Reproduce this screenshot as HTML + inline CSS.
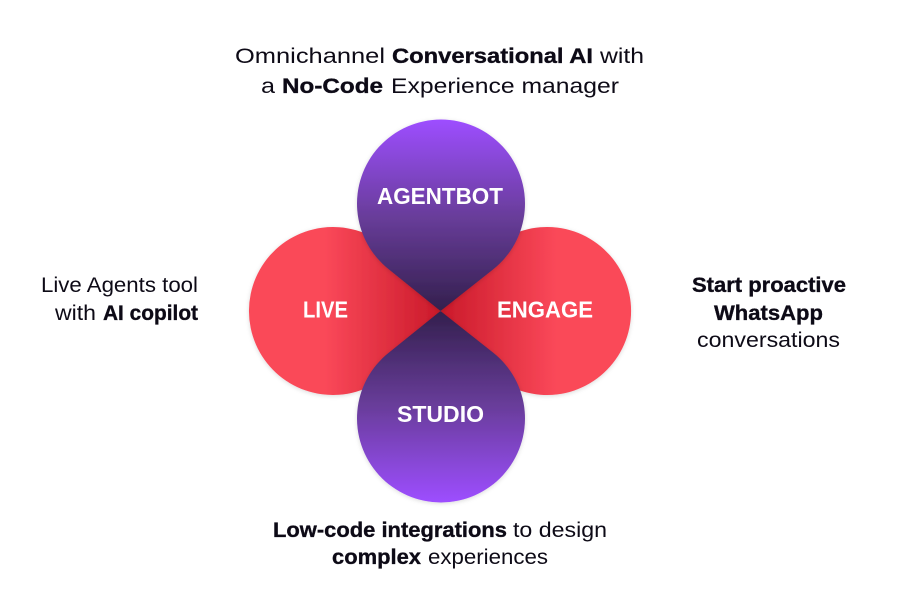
<!DOCTYPE html>
<html>
<head>
<meta charset="utf-8">
<style>
html,body{margin:0;padding:0;background:#fff;width:909px;height:611px;overflow:hidden}
svg{display:block}
text{font-family:"Liberation Sans",sans-serif;font-size:21.5px;fill:#0d0a16}
.b{font-weight:700;stroke:#0d0a16;stroke-width:.35px}
.l{font-weight:700;font-size:23px;fill:#fff}
</style>
</head>
<body>
<svg width="909" height="611" viewBox="0 0 909 611" xmlns="http://www.w3.org/2000/svg">
<defs>
<linearGradient id="pt" gradientUnits="userSpaceOnUse" x1="0" y1="120" x2="0" y2="311"><stop offset="0" stop-color="#9d4eff"/><stop offset=".5" stop-color="#693d9b"/><stop offset="1" stop-color="#33204d"/></linearGradient>
<linearGradient id="pb" gradientUnits="userSpaceOnUse" x1="0" y1="502" x2="0" y2="311"><stop offset="0" stop-color="#9d4eff"/><stop offset=".5" stop-color="#693d9b"/><stop offset="1" stop-color="#33204d"/></linearGradient>
<linearGradient id="rl" gradientUnits="userSpaceOnUse" x1="436" y1="0" x2="325" y2="0"><stop offset="0" stop-color="#cc1c2c"/><stop offset="1" stop-color="#fa4859"/></linearGradient>
<linearGradient id="rr" gradientUnits="userSpaceOnUse" x1="445" y1="0" x2="556" y2="0"><stop offset="0" stop-color="#cc1c2c"/><stop offset="1" stop-color="#fa4859"/></linearGradient>
<filter id="s" x="-20%" y="-20%" width="140%" height="140%"><feDropShadow dx="0" dy="1" stdDeviation="2" flood-color="#000" flood-opacity=".15"/></filter>
</defs>

<g filter="url(#s)">
<path fill="url(#rl)" d="M440.5 311 L398.6 258.6 A84 84 0 1 0 398.6 363.4 Z"/>
<path fill="url(#rr)" d="M440.5 311 L480.8 259.4 A84 84 0 1 1 480.8 362.6 Z"/>
</g>
<g filter="url(#s)">
<path fill="url(#pt)" d="M440.5 311 L389.5 269.9 A84 84 0 1 1 492.5 269.9 Z"/>
<path fill="url(#pb)" d="M440.5 311 L389.5 352.1 A84 84 0 1 0 492.5 352.1 Z"/>
</g>

<text class="l" x="377" y="204" textLength="126" lengthAdjust="spacingAndGlyphs">AGENTBOT</text>
<text class="l" x="303" y="317.5" textLength="45" lengthAdjust="spacingAndGlyphs">LIVE</text>
<text class="l" x="497" y="317.5" textLength="96" lengthAdjust="spacingAndGlyphs">ENGAGE</text>
<text class="l" x="397" y="422" textLength="87" lengthAdjust="spacingAndGlyphs">STUDIO</text>

<text x="235" y="63" textLength="150" lengthAdjust="spacingAndGlyphs">Omnichannel</text>
<text class="b" x="392" y="63" textLength="201" lengthAdjust="spacingAndGlyphs">Conversational AI</text>
<text x="600" y="63" textLength="44" lengthAdjust="spacingAndGlyphs">with</text>
<text x="261" y="93" textLength="14" lengthAdjust="spacingAndGlyphs">a</text>
<text class="b" x="282" y="93" textLength="101" lengthAdjust="spacingAndGlyphs">No-Code</text>
<text x="391" y="93" textLength="228" lengthAdjust="spacingAndGlyphs">Experience manager</text>

<text x="41" y="292" textLength="157" lengthAdjust="spacingAndGlyphs">Live Agents tool</text>
<text x="55" y="320" textLength="41" lengthAdjust="spacingAndGlyphs">with</text>
<text class="b" x="103" y="320" textLength="95" lengthAdjust="spacingAndGlyphs">AI copilot</text>

<text class="b" x="692" y="292" textLength="154" lengthAdjust="spacingAndGlyphs">Start proactive</text>
<text class="b" x="714" y="320" textLength="109" lengthAdjust="spacingAndGlyphs">WhatsApp</text>
<text x="697" y="347" textLength="143" lengthAdjust="spacingAndGlyphs">conversations</text>

<text class="b" x="273" y="537" textLength="234" lengthAdjust="spacingAndGlyphs">Low-code integrations</text>
<text x="513" y="537" textLength="94" lengthAdjust="spacingAndGlyphs">to design</text>
<text class="b" x="332" y="564" textLength="89" lengthAdjust="spacingAndGlyphs">complex</text>
<text x="428" y="564" textLength="120" lengthAdjust="spacingAndGlyphs">experiences</text>
</svg>
</body>
</html>
